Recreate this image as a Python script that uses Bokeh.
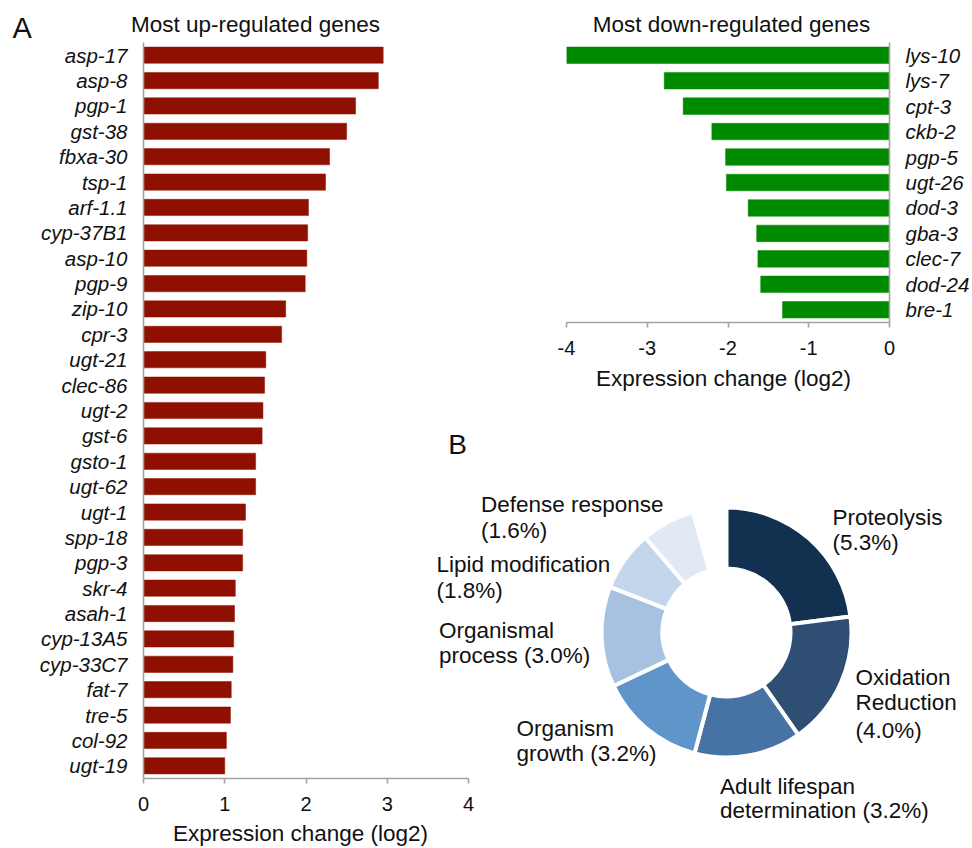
import math
from bokeh.plotting import figure
from bokeh.models import (ColumnDataSource, FactorRange, Range1d, FixedTicker,
                          Label, GridBox, Column)
from bokeh.embed import file_html
from bokeh.resources import INLINE

# ---------------- data ----------------
up_genes = ["asp-17", "asp-8", "pgp-1", "gst-38", "fbxa-30", "tsp-1", "arf-1.1",
            "cyp-37B1", "asp-10", "pgp-9", "zip-10", "cpr-3", "ugt-21", "clec-86",
            "ugt-2", "gst-6", "gsto-1", "ugt-62", "ugt-1", "spp-18", "pgp-3",
            "skr-4", "asah-1", "cyp-13A5", "cyp-33C7", "fat-7", "tre-5", "col-92",
            "ugt-19"]
up_values = [2.95, 2.89, 2.61, 2.50, 2.29, 2.24, 2.03, 2.02, 2.01, 1.99, 1.75,
             1.70, 1.505, 1.49, 1.47, 1.46, 1.38, 1.38, 1.255, 1.22, 1.22, 1.13,
             1.12, 1.11, 1.10, 1.08, 1.07, 1.02, 1.00]

down_genes = ["lys-10", "lys-7", "cpt-3", "ckb-2", "pgp-5", "ugt-26", "dod-3",
              "gba-3", "clec-7", "dod-24", "bre-1"]
down_values = [-4.00, -2.79, -2.555, -2.20, -2.03, -2.02, -1.75, -1.645, -1.63,
               -1.595, -1.325]

up_ticks = [0, 1, 2, 3, 4]
down_ticks = [-4, -3, -2, -1, 0]

go_terms = ["Proteolysis", "Oxidation Reduction", "Adult lifespan determination",
            "Organism growth", "Organismal process", "Lipid modification",
            "Defense response"]
go_percent = [5.3, 4.0, 3.2, 3.2, 3.0, 1.8, 1.6]
circle_total = 23.1   # percent represented by the full circle

# ---------------- styles ----------------
FONT = "Liberation Sans"
TXT = "#111111"
AX = "#a3a3a3"
RED = "#8f1000"
GREEN = "#008a00"
go_colors = ["#12304f", "#2e4f73", "#4673a4", "#5f95c9", "#a6c2e0", "#c3d6eb", "#e0e9f4"]
W, H = 972, 848


def style_axes(p):
    p.xgrid.visible = False
    p.ygrid.visible = False
    p.outline_line_color = None
    for ax in p.xaxis:
        ax.axis_line_color = AX
        ax.axis_line_width = 1.6
        ax.major_tick_line_color = AX
        ax.major_tick_line_width = 1.6
        ax.major_tick_out = 5
        ax.major_tick_in = 0
        ax.minor_tick_line_color = None
        ax.major_label_text_font = FONT
        ax.major_label_text_font_size = "20px"
        ax.major_label_text_color = TXT
        ax.major_label_standoff = 13
    for ax in p.yaxis:
        ax.axis_line_color = AX
        ax.axis_line_width = 1.6
        ax.major_tick_line_color = None
        ax.minor_tick_line_color = None
        ax.major_tick_out = 0
        ax.major_tick_in = 0
        ax.major_label_text_font = FONT
        ax.major_label_text_font_size = "20.5px"
        ax.major_label_text_font_style = "italic"
        ax.major_label_text_color = TXT
        ax.major_label_standoff = 16


# ---------------- left: up-regulated (frame x 143..468, y 42..778) ----------------
pL = figure(width=W, height=H, x_range=Range1d(0, 4),
            y_range=FactorRange(factors=up_genes[::-1]),
            output_backend="svg", toolbar_location=None,
            min_border_left=143, min_border_right=W - 468,
            min_border_top=42, min_border_bottom=H - 778)
srcL = ColumnDataSource(dict(gene=up_genes, val=up_values))
pL.hbar(y="gene", right="val", left=0, height=0.64, source=srcL,
        fill_color=RED, line_color=RED, line_width=0.5)
style_axes(pL)
pL.xaxis.ticker = FixedTicker(ticks=up_ticks)

# ---------------- right: down-regulated (frame x 566..891, y 42..322) ----------------
pR = figure(width=W, height=400, x_range=Range1d(-4, 0),
            y_range=FactorRange(factors=down_genes[::-1]),
            y_axis_location="right",
            output_backend="svg", toolbar_location=None,
            min_border_left=566, min_border_right=W - 891,
            min_border_top=42, min_border_bottom=400 - 322)
pR.background_fill_color = None
pR.border_fill_color = None
srcR = ColumnDataSource(dict(gene=down_genes, val=down_values))
pR.hbar(y="gene", left="val", right=0, height=0.65, source=srcR,
        fill_color=GREEN, line_color=GREEN, line_width=0.5)
style_axes(pR)
pR.xaxis.ticker = FixedTicker(ticks=down_ticks)
pR.xaxis.major_label_overrides = {t: str(t) for t in down_ticks}

# ---------------- overlay: donut + free texts (data units = pixels, y negated) ----------------
pO = figure(width=W, height=H, x_range=Range1d(0, W), y_range=Range1d(-H, 0),
            output_backend="svg", toolbar_location=None,
            x_axis_location=None, y_axis_location=None, min_border=0)
pO.xgrid.visible = False
pO.ygrid.visible = False
pO.outline_line_color = None
pO.background_fill_color = None
pO.border_fill_color = None

starts, ends = [], []
acc = 0.0
for v in go_percent:
    starts.append(math.pi / 2 - acc / circle_total * 2 * math.pi)
    acc += v
    ends.append(math.pi / 2 - acc / circle_total * 2 * math.pi)
srcD = ColumnDataSource(dict(term=go_terms, pct=go_percent, start=starts, end=ends, color=go_colors))
pO.annular_wedge(x=726, y=-632, inner_radius=64, outer_radius=125,
                 start_angle="start", end_angle="end", direction="clock",
                 fill_color="color", line_color="white", line_width=4, source=srcD)


def add_text(x, y, text, size=22.5, align="left"):
    # y is the text baseline in pixels from the top; anchor at the middle of the em box
    pO.add_layout(Label(x=x, y=-(y - 0.35 * size), text=text, text_font=FONT,
                        text_font_size="%spx" % size, text_color=TXT,
                        text_align=align, text_baseline="middle"))


def pct(i):
    return "(%.1f%%)" % go_percent[i]


add_text(21.7, 37.3, "A", size=29, align="center")
add_text(255, 31.7, "Most up-regulated genes", align="center")
add_text(300, 841.0, "Expression change (log2)", align="center")
add_text(731, 32, "Most down-regulated genes", align="center")
add_text(723, 385.5, "Expression change (log2)", align="center")
add_text(457, 453.3, "B", size=28, align="center")

donut_lines = [
    (480.5, 512, "Defense response"), (480.5, 537.5, pct(6)),
    (436, 572, "Lipid modification"), (436, 597.5, pct(5)),
    (438.5, 637.5, "Organismal"), (438.5, 662.5, "process " + pct(4)),
    (516, 736, "Organism"), (516, 761, "growth " + pct(3)),
    (719.5, 793.5, "Adult lifespan"), (719.5, 817.5, "determination " + pct(2)),
    (855, 685, "Oxidation"), (855, 710, "Reduction"), (855, 738, pct(1)),
    (832, 524.5, "Proteolysis"), (832, 549.5, pct(0)),
]
for x, y, t in donut_lines:
    add_text(x, y, t)

grid = GridBox(children=[(Column(children=[pL]), 0, 0),
                         (Column(children=[pR]), 0, 0),
                         (Column(children=[pO]), 0, 0)])

open("out.html", "w").write(file_html(grid, INLINE))
